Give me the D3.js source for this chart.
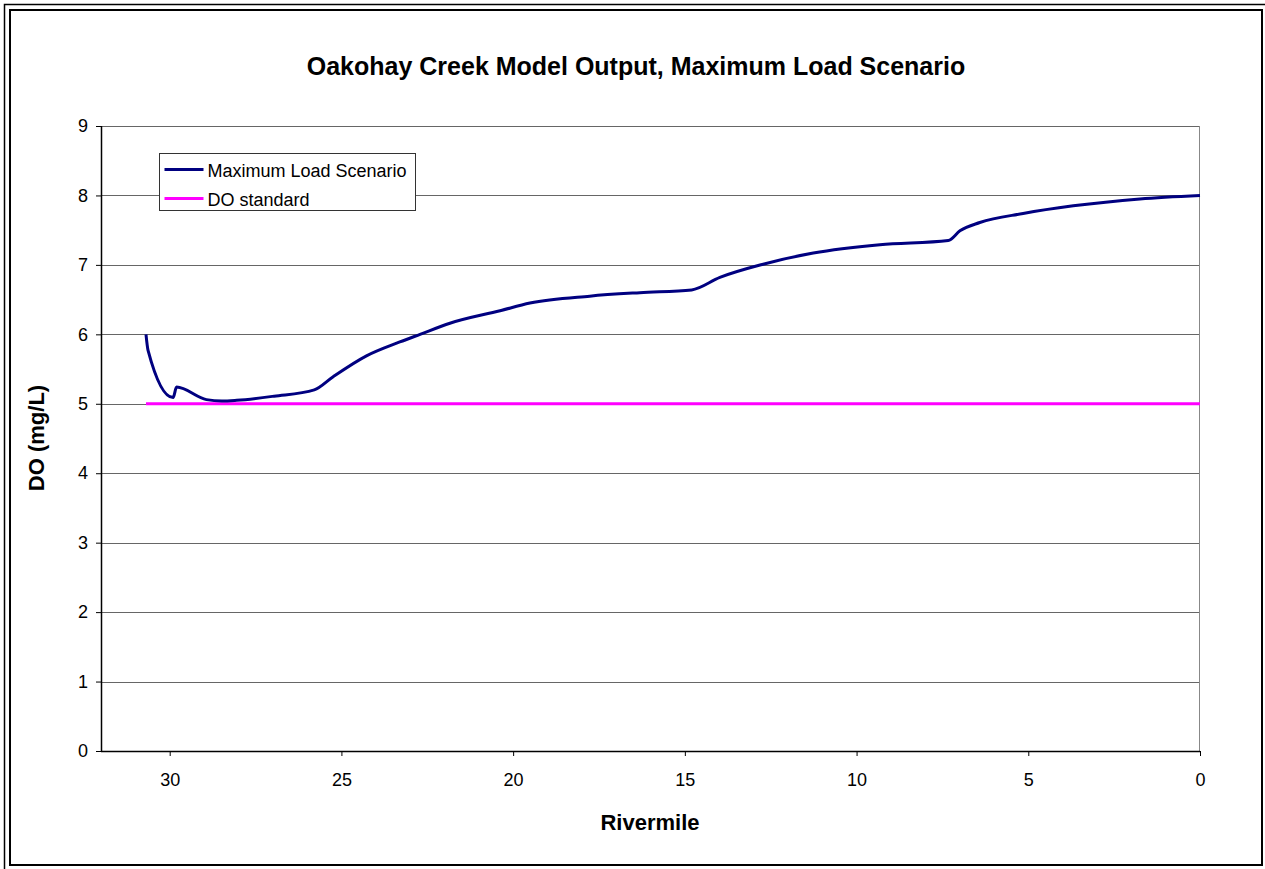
<!DOCTYPE html>
<html>
<head>
<meta charset="utf-8">
<script src="https://cdn.jsdelivr.net/npm/d3@7"></script>
<style>
	body { margin: 0; background: #fff; }
	svg { display: block; font-family: "Liberation Sans", Arial, sans-serif; }
</style>
</head>
<body>
<div id="chart"></div>
<script>
// river mile (x) and dissolved oxygen (y)
var rivermile = [30.69, 30.63, 29.90, 29.80, 28.93, 28.48, 28.05, 26.96, 25.79, 25.24, 24.27, 23.30, 22.71, 21.84, 20.38, 19.51, 17.77, 16.31, 14.80, 13.98, 12.72, 11.26, 9.32, 7.33, 6.99, 6.41, 5.15, 3.69, 1.75, 0];
var maxLoad = [6.00, 5.77, 5.09, 5.24, 5.06, 5.04, 5.05, 5.11, 5.20, 5.39, 5.69, 5.89, 6.00, 6.16, 6.34, 6.45, 6.55, 6.60, 6.64, 6.82, 7.01, 7.17, 7.29, 7.35, 7.49, 7.61, 7.74, 7.85, 7.95, 8.00];
var standardMiles = [30.69, 0];
var standardDO = [5, 5];
var xTicks = [30, 25, 20, 15, 10, 5, 0];
var yTicks = [0, 1, 2, 3, 4, 5, 6, 7, 8, 9];
var seriesNames = ["Maximum Load Scenario", "DO standard"];
var seriesColors = ["#000080", "#ff00ff"];

var W = 1265, H = 869;
var margin = {top: 126, right: 65, bottom: 118, left: 101};
var pw = W - margin.left - margin.right,
	ph = H - margin.top - margin.bottom;

var svg = d3.select("#chart").append("svg")
	.attr("width", W)
	.attr("height", H);

// double frame round the chart
svg.append("path")
	.attr("d", "M4.5,869 V4.5 H1265")
	.attr("fill", "none").attr("stroke", "#000").attr("stroke-width", 1.5);
svg.append("rect")
	.attr("x", 10).attr("y", 10)
	.attr("width", 1252).attr("height", 855)
	.attr("fill", "none").attr("stroke", "#000").attr("stroke-width", 2);

var x = d3.scaleLinear().domain([32, 0]).range([0, pw]);
var y = d3.scaleLinear().domain([0, 9]).range([ph, 0]);

var g = svg.append("g")
	.attr("transform", "translate(" + margin.left + "," + margin.top + ")");

// gridlines
g.append("g")
	.selectAll("line")
	.data(yTicks.filter(function(d) { return d > 0; }))
	.enter().append("line")
	.attr("x1", 0).attr("x2", pw)
	.attr("y1", function(d) { return Math.round(y(d)) + 0.5; })
	.attr("y2", function(d) { return Math.round(y(d)) + 0.5; })
	.attr("stroke", "#666").attr("stroke-width", 1);

// right border of plot area
g.append("line")
	.attr("x1", pw - 0.5).attr("x2", pw - 0.5)
	.attr("y1", 0).attr("y2", ph)
	.attr("stroke", "#888");

var xAxis = g.append("g")
	.attr("transform", "translate(0," + ph + ")")
	.call(d3.axisBottom(x).tickValues(xTicks).tickSize(5).tickPadding(17).tickFormat(d3.format("d")));
var yAxis = g.append("g")
	.call(d3.axisLeft(y).tickValues(yTicks).tickSize(5).tickPadding(8).tickFormat(d3.format("d")));

[xAxis, yAxis].forEach(function(a) {
	a.select(".domain").attr("stroke", "#000").attr("stroke-width", 1.5);
	a.selectAll(".tick line").attr("stroke", "#000");
	a.selectAll("text")
		.attr("fill", "#000")
		.style("font-size", "18px")
		.style("font-family", "'Liberation Sans', Arial, sans-serif");
});
xAxis.select(".domain").attr("d", "M0,0.5H" + pw);
yAxis.select(".domain").attr("d", "M0.5,0V" + ph);

var line = d3.line()
	.x(function(d) { return x(d[0]); })
	.y(function(d) { return y(d[1]); });

g.append("path")
	.datum(d3.zip(standardMiles, standardDO))
	.attr("fill", "none")
	.attr("stroke", seriesColors[1])
	.attr("stroke-width", 3)
	.attr("d", line);

g.append("path")
	.datum(d3.zip(rivermile, maxLoad))
	.attr("fill", "none")
	.attr("stroke", seriesColors[0])
	.attr("stroke-width", 3)
	.attr("stroke-linejoin", "round")
	.attr("d", line.curve(d3.curveMonotoneX));

// legend
var legend = svg.append("g").attr("transform", "translate(159.5,153.5)");
legend.append("rect")
	.attr("width", 256).attr("height", 57)
	.attr("fill", "#fff").attr("stroke", "#333").attr("stroke-width", 1);
seriesNames.forEach(function(name, i) {
	var row = legend.append("g").attr("transform", "translate(0," + (16 + i * 29) + ")");
	row.append("line")
		.attr("x1", 5).attr("x2", 44)
		.attr("stroke", seriesColors[i]).attr("stroke-width", 3);
	row.append("text")
		.attr("x", 48).attr("y", 7)
		.style("font-size", "18px")
		.text(name);
});

svg.append("text")
	.attr("x", 636).attr("y", 75)
	.attr("text-anchor", "middle")
	.style("font-size", "25px").style("font-weight", "bold")
	.text("Oakohay Creek Model Output, Maximum Load Scenario");

svg.append("text")
	.attr("x", 650).attr("y", 830)
	.attr("text-anchor", "middle")
	.style("font-size", "22px").style("font-weight", "bold")
	.text("Rivermile");

svg.append("text")
	.attr("transform", "translate(44,438) rotate(-90)")
	.attr("text-anchor", "middle")
	.style("font-size", "22px").style("font-weight", "bold")
	.text("DO (mg/L)");
</script>
</body>
</html>
